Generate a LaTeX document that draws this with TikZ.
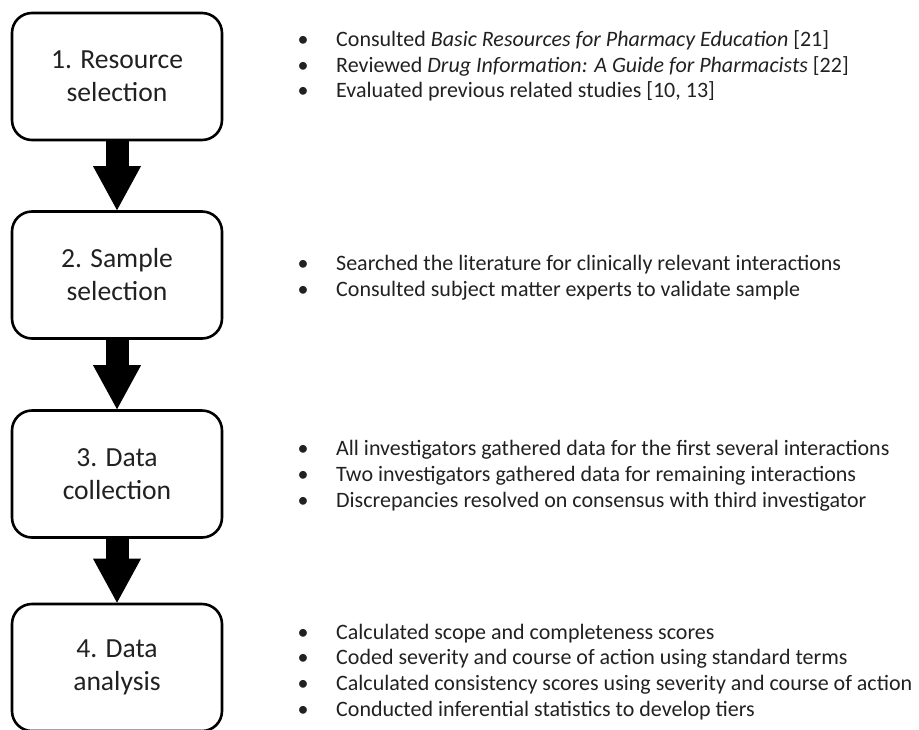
\documentclass[tikz,border=0pt]{standalone}
\usepackage{fontspec}
\setmainfont{Carlito}
\usetikzlibrary{arrows.meta,positioning}
\definecolor{txt}{gray}{0.13}
\tikzset{
  stepbox/.style={draw=black, line width=2.6pt, rounded corners=20pt, fill=white,
    minimum width=210pt, minimum height=127pt, inner sep=0pt, align=center,
    text=txt, font=\fontsize{27.6pt}{33pt}\selectfont},
  bigarrow/.style={line width=23pt, -{Triangle[width=48pt,length=44pt,line width=0pt]}},
  notes/.style={anchor=west, inner sep=0pt, align=left, text=txt,
    font=\fontsize{22pt}{25.8pt}\selectfont}
}
\newcommand{\bul}{\makebox[38.5pt][l]{•}}
\begin{document}
\begin{tikzpicture}[x=1pt,y=-1pt]
\useasboundingbox (0,0) rectangle (919,729);
\node[stepbox] (b1) at (117,76.5) {1. Resource\\selection};
\node[stepbox] (b2) at (117,275) {2. Sample\\selection};
\node[stepbox] (b3) at (117,474) {3. Data\\collection};
\node[stepbox] (b4) at (117,667.5) {4. Data\\analysis};
\draw[bigarrow] (b1.south) -- (b2.north);
\draw[bigarrow] (b2.south) -- (b3.north);
\draw[bigarrow] (b3.south) -- (b4.north);
\node[notes] (t1) at (297.5,66) {\bul Consulted \textit{Basic Resources for Pharmacy Education} [21]\\
\bul Reviewed \textit{Drug Information: A Guide for Pharmacists} [22]\\
\bul Evaluated previous related studies [10, 13]};
\node[notes] (t2) at (297.5,278) {\bul Searched the literature for clinically relevant interactions\\
\bul Consulted subject matter experts to validate sample};
\node[notes] (t3) at (297.5,475.5) {\bul All investigators gathered data for the first several interactions\\
\bul Two investigators gathered data for remaining interactions\\
\bul Discrepancies resolved on consensus with third investigator};
\node[notes] (t4) at (297.5,672) {\bul Calculated scope and completeness scores\\
\bul Coded severity and course of action using standard terms\\
\bul Calculated consistency scores using severity and course of action\\
\bul Conducted inferential statistics to develop tiers};
\end{tikzpicture}
\end{document}
